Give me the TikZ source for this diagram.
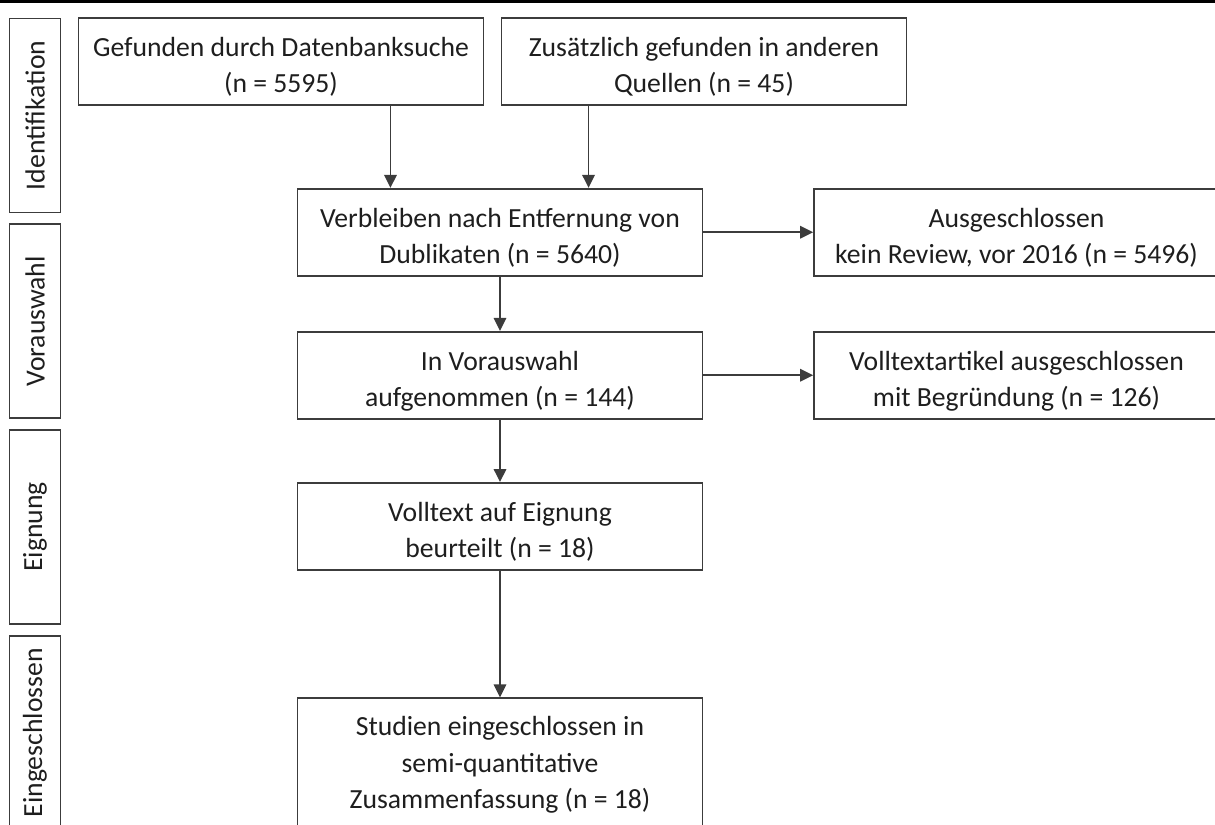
\documentclass[tikz,border=0pt]{standalone}
\usepackage{fontspec}
\setmainfont{Carlito}
\usetikzlibrary{arrows.meta}

\definecolor{boxline}{HTML}{3C3C3C}
\definecolor{boxtext}{HTML}{1E1E1E}

\tikzset{
	flowbox/.style={draw=boxline, line width=1pt, text=boxtext, align=center,
		minimum width=8.1cm, minimum height=1.74cm, inner sep=0pt,
		font=\fontsize{15.75pt}{20.5pt}\selectfont, text height=35.3pt, text depth=0pt},
	phasebox/.style={draw=boxline, line width=1pt, text=boxtext, rotate=90,
		minimum width=3.88cm, minimum height=1.02cm, inner sep=0pt,
		font=\fontsize{15.75pt}{20.5pt}\selectfont},
	arr/.style={draw=boxline, line width=1pt, -{Triangle[length=0.26cm, width=0.25cm]}}
}

\begin{document}
\begin{tikzpicture}[x=0.02cm, y=-0.02cm]
		% Page frame
		\useasboundingbox (0,0) rectangle (1215,825);
		\clip (0,0) rectangle (1215,825);
		
		% Rule at the top
		\draw[line width=0.06cm] (0,1.5) -- (1215,1.5);
		
		% Phases on the left
		\foreach \ypos/\name/\phase in {115.5/phaseid/Identifikation, 321.3/phasevor/Vorauswahl,
			527/phaseeig/Eignung, 732.8/phaseein/Eingeschlossen} {
			\node[phasebox] (\name) at (35,\ypos) {\phase};
		}
		
		% Boxes of the flow
		\node[flowbox] (gefunden) at (281,61.7) {Gefunden durch Datenbanksuche\\(n = 5595)};
		\node[flowbox] (zusaetzlich) at (704,61.7) {Zusätzlich gefunden in anderen\\Quellen (n = 45)};
		\node[flowbox] (verbleiben) at (500,232.2) {Verbleiben nach Entfernung von\\Dublikaten (n = 5640)};
		\node[flowbox] (ausgeschl) at (1016.5,232.2) {Ausgeschlossen\\kein Review, vor 2016 (n = 5496)};
		\node[flowbox] (vorauswahl) at (500,375.2) {In Vorauswahl\\aufgenommen (n = 144)};
		\node[flowbox] (vollausg) at (1016.5,375.2) {Volltextartikel ausgeschlossen\\mit Begründung (n = 126)};
		\node[flowbox] (volltext) at (500,526.4) {Volltext auf Eignung\\beurteilt (n = 18)};
		\node[flowbox, minimum height=2.6cm, text height=50.9pt] (studien) at (500,763.3) {Studien eingeschlossen in\\semi-quantitative\\Zusammenfassung (n = 18)};
		
		% Arrows into the duplicate check
		\coordinate (gefout) at ([xshift=2.19cm]gefunden.south);
		\coordinate (zusout) at ([xshift=-2.31cm]zusaetzlich.south);
		\draw[arr] (gefout) -- (gefout |- verbleiben.north);
		\draw[arr] (zusout) -- (zusout |- verbleiben.north);
		
		% Main line and exclusions
		\draw[arr] (verbleiben.east) -- (ausgeschl.west);
		\draw[arr] (verbleiben.south) -- (vorauswahl.north);
		\draw[arr] (vorauswahl.east) -- (vollausg.west);
		\draw[arr] (vorauswahl.south) -- (volltext.north);
		\draw[arr] (volltext.south) -- (studien.north);
	\end{tikzpicture}
\end{document}
